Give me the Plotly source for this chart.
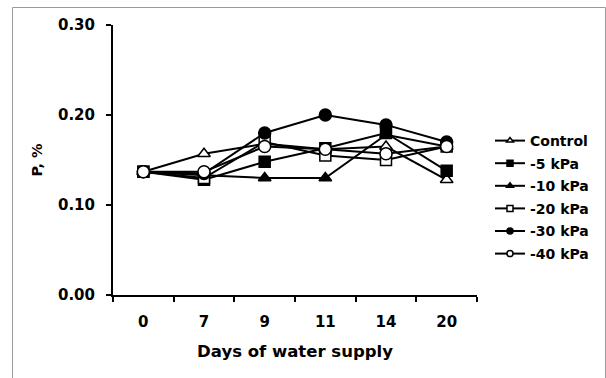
import plotly.graph_objects as go

days = ["0", "7", "9", "11", "14", "20"]
series_names = ["Control", "-5 kPa", "-10 kPa", "-20 kPa", "-30 kPa", "-40 kPa"]
control = [0.137, 0.157, 0.168, 0.162, 0.165, 0.128]
kpa5 = [0.137, 0.128, 0.148, 0.163, 0.180, 0.138]
kpa10 = [0.137, 0.133, 0.130, 0.130, 0.178, 0.165]
kpa20 = [0.137, 0.130, 0.170, 0.155, 0.150, 0.165]
kpa30 = [0.137, 0.135, 0.180, 0.200, 0.189, 0.170]
kpa40 = [0.137, 0.137, 0.165, 0.162, 0.157, 0.165]
y_ticks = [0.0, 0.1, 0.2, 0.3]

values = [control, kpa5, kpa10, kpa20, kpa30, kpa40]
symbols = ["triangle-up", "square", "triangle-up", "square", "circle", "circle"]
fills = ["white", "black", "black", "white", "black", "white"]
sizes = [11, 11, 11, 11, 12, 12]

FONT = "DejaVu Sans"
fig = go.Figure()
for i, (name, vals) in enumerate(zip(series_names, values)):
    fig.add_trace(go.Scatter(
        x=days, y=vals, mode="lines+markers", name=name, showlegend=False,
        line=dict(color="black", width=2),
        marker=dict(symbol=symbols[i], size=sizes[i], color=fills[i],
                    line=dict(color="black", width=1.5)),
    ))
for i, name in enumerate(series_names):
    fig.add_trace(go.Scatter(
        x=[None], y=[None], mode="lines+markers", name=name, legendgroup=name,
        line=dict(color="black", width=2),
        marker=dict(symbol=symbols[i], size=6, color=fills[i],
                    line=dict(color="black", width=1.5)),
    ))

W0, W1 = 113, 477
T0, B0 = 25, 295
def px_x(p):
    return (p - W0) / (W1 - W0)
def px_y(p):
    return (B0 - p) / (B0 - T0)

fig.add_shape(type="rect", xref="paper", yref="paper",
              x0=px_x(12.5), x1=px_x(605.5), y0=px_y(420), y1=px_y(7.5),
              line=dict(color="#9a9a9a", width=1), fillcolor="rgba(0,0,0,0)", layer="below")

fig.update_layout(
    width=606, height=378,
    margin=dict(l=W0, r=606 - W1, t=T0, b=378 - B0, autoexpand=False),
    paper_bgcolor="white", plot_bgcolor="white",
    font=dict(family=FONT, color="black"),
    legend=dict(x=px_x(490), y=px_y(125), xanchor="left", yanchor="top",
                font=dict(family=FONT, size=14, color="black", weight="bold"),
                tracegroupgap=1.4, bgcolor="rgba(0,0,0,0)", traceorder="grouped"),
    xaxis=dict(type="category", categoryorder="array", categoryarray=days,
               range=[-0.5, 5.5], showline=True, linecolor="black", linewidth=2,
               ticks="outside", tickson="boundaries", ticklen=5, tickwidth=1.5,
               tickcolor="black", showgrid=False, zeroline=False,
               tickfont=dict(family=FONT, size=15, weight="bold"),
               ticklabelstandoff=12,
               title=dict(text="Days of water supply", standoff=15,
                          font=dict(family=FONT, size=16.5, weight="bold"))),
    yaxis=dict(range=[0, 0.3], tickvals=y_ticks, tickformat=".2f",
               showline=True, linecolor="black", linewidth=2,
               ticks="outside", ticklen=5, tickwidth=1.5, tickcolor="black",
               showgrid=False, zeroline=False,
               tickfont=dict(family=FONT, size=15, weight="bold"),
               ticklabelstandoff=8,
               title=dict(text="P, %", standoff=12,
                          font=dict(family=FONT, size=14.5, weight="bold"))),
)
fig.write_html("out.html")
